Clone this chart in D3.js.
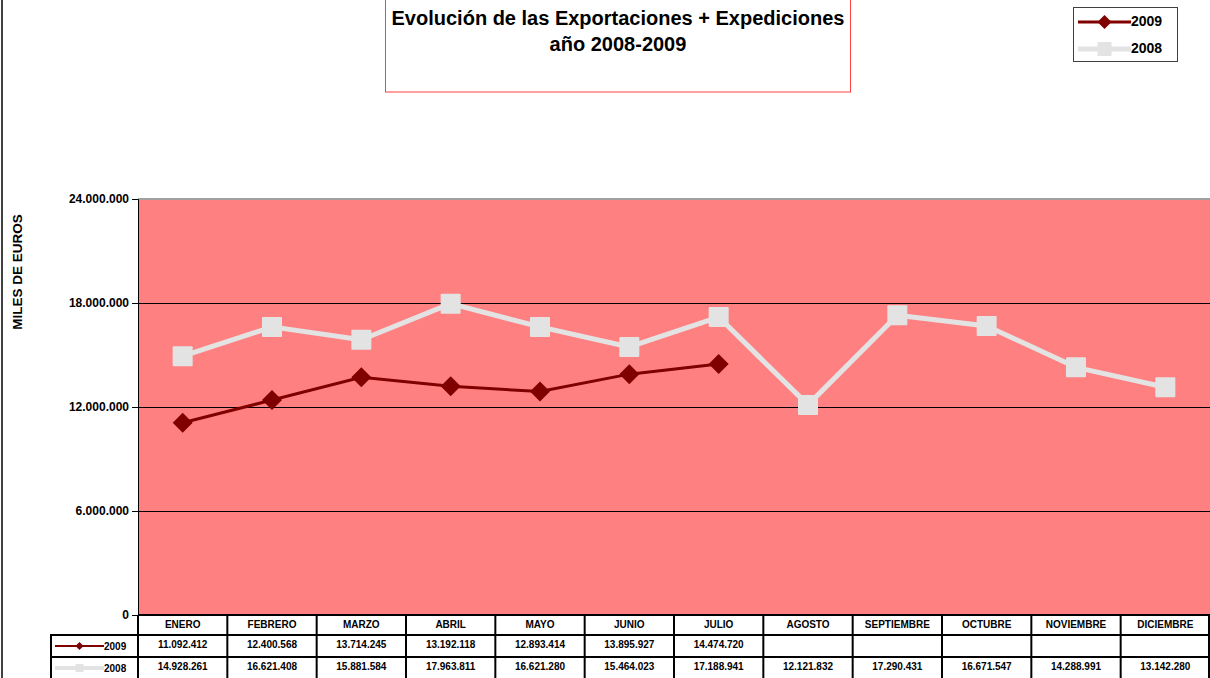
<!DOCTYPE html>
<html>
<head>
<meta charset="utf-8">
<script src="https://cdn.jsdelivr.net/npm/d3@7"></script>
<style>
body{margin:0;background:#fff;font-family:"Liberation Sans",Arial,sans-serif;}
</style>
</head>
<body>
<script>
var months = ["ENERO","FEBRERO","MARZO","ABRIL","MAYO","JUNIO","JULIO","AGOSTO","SEPTIEMBRE","OCTUBRE","NOVIEMBRE","DICIEMBRE"];
var v2009 = [11092412,12400568,13714245,13192118,12893414,13895927,14474720,null,null,null,null,null];
var v2008 = [14928261,16621408,15881584,17963811,16621280,15464023,17188941,12121832,17290431,16671547,14288991,13142280];
var yTicks = [0,6000000,12000000,18000000,24000000];

var W = 1210, H = 678;
var pLeft = 138, pRight = 1210, pTop = 199, pBottom = 615;

var svg = d3.select("body").append("svg")
  .attr("width", W).attr("height", H);

// frame left edge
svg.append("line").attr("x1",2).attr("x2",2).attr("y1",0).attr("y2",H)
  .attr("stroke","#000").attr("stroke-width",1.5);

var x = d3.scaleBand().domain(months).range([pLeft, pRight]);
var y = d3.scaleLinear().domain([0,24000000]).range([pBottom, pTop]);

function fmt(v){
  return d3.format(",")(v).replace(/,/g,".");
}

// plot area
svg.append("rect").attr("x",pLeft).attr("y",pTop).attr("width",pRight-pLeft).attr("height",pBottom-pTop)
  .attr("fill","#ff8080");
svg.append("line").attr("x1",pLeft).attr("x2",pRight).attr("y1",pTop).attr("y2",pTop)
  .attr("stroke","#a0a0a0").attr("stroke-width",2);

// gridlines
svg.selectAll(".grid").data(yTicks.filter(function(d){return d>0 && d<24000000;}))
  .enter().append("line")
  .attr("x1",pLeft).attr("x2",pRight)
  .attr("y1",function(d){return Math.round(y(d))+0.5;})
  .attr("y2",function(d){return Math.round(y(d))+0.5;})
  .attr("stroke","#000").attr("stroke-width",1);

// y axis
var yAxis = d3.axisLeft(y).tickValues(yTicks).tickSize(6).tickFormat(function(d){return d==0?"0":fmt(d);});
var ga = svg.append("g").attr("transform","translate("+pLeft+",0)").call(yAxis);
ga.select(".domain").attr("stroke","#000");
ga.selectAll("text").attr("font-family","Liberation Sans, Arial").attr("font-weight","bold")
  .attr("font-size",12).attr("fill","#000").attr("dx",0);

svg.append("text").attr("transform","translate(22,272) rotate(-90)")
  .attr("text-anchor","middle").attr("font-weight","bold").attr("font-size",13.5)
  .text("MILES DE EUROS");

// lines
var line = d3.line().defined(function(d){return d!=null;})
  .x(function(d,i){return x(months[i])+x.bandwidth()/2;})
  .y(function(d){return y(d);});

svg.append("path").datum(v2008).attr("d",line).attr("fill","none")
  .attr("stroke","#e3e3e3").attr("stroke-width",5).attr("stroke-linejoin","round");
svg.selectAll(".m08").data(v2008).enter().append("rect")
  .attr("x",function(d,i){return x(months[i])+x.bandwidth()/2-10;})
  .attr("y",function(d){return y(d)-10;})
  .attr("width",20).attr("height",20).attr("rx",1)
  .attr("fill","#e3e3e3");

svg.append("path").datum(v2009).attr("d",line).attr("fill","none")
  .attr("stroke","#800000").attr("stroke-width",3);
svg.selectAll(".m09").data(v2009.filter(function(d){return d!=null;})).enter().append("path")
  .attr("d","M0,-10L10,0L0,10L-10,0Z")
  .attr("transform",function(d,i){return "translate("+(x(months[i])+x.bandwidth()/2)+","+y(d)+")";})
  .attr("fill","#800000");

// data table
var rowY = [615,635,657,679];
var tg = svg.append("g");
function hline(x1,x2,yy){
  tg.append("line").attr("x1",x1).attr("x2",x2).attr("y1",yy).attr("y2",yy)
    .attr("stroke","#000").attr("stroke-width",2);
}
hline(pLeft,pRight,rowY[0]);
hline(50,pRight,rowY[1]);
hline(50,pRight,rowY[2]);
// vertical lines
var vx = months.map(function(m){return x(m);});
vx.push(pRight-1);
vx.forEach(function(xx){
  tg.append("line").attr("x1",xx).attr("x2",xx).attr("y1",rowY[0]).attr("y2",H)
    .attr("stroke","#000").attr("stroke-width",2);
});
tg.append("line").attr("x1",51).attr("x2",51).attr("y1",rowY[1]).attr("y2",H)
  .attr("stroke","#000").attr("stroke-width",2);

tg.selectAll(".hd").data(months).enter().append("text")
  .attr("x",function(d){return x(d)+x.bandwidth()/2;})
  .attr("y",rowY[0]+13).attr("text-anchor","middle")
  .attr("font-weight","bold").attr("font-size",10).text(function(d){return d;});
tg.selectAll(".r09").data(v2009).enter().append("text")
  .attr("x",function(d,i){return x(months[i])+x.bandwidth()/2;})
  .attr("y",rowY[1]+13).attr("text-anchor","middle")
  .attr("font-weight","bold").attr("font-size",10).text(function(d){return d==null?"":fmt(d);});
tg.selectAll(".r08").data(v2008).enter().append("text")
  .attr("x",function(d,i){return x(months[i])+x.bandwidth()/2;})
  .attr("y",rowY[2]+13).attr("text-anchor","middle")
  .attr("font-weight","bold").attr("font-size",10).text(function(d){return fmt(d);});

// legend keys (table and legend box)
function key(g, k, isMain, lab, fs){
  // k = [x1, x2, y, lineWidth, markerHalf]
  if(isMain){
    g.append("line").attr("x1",k[0]).attr("x2",k[1]).attr("y1",k[2]).attr("y2",k[2])
      .attr("stroke","#800000").attr("stroke-width",k[3]);
    g.append("path").attr("d","M0,-"+k[4]+"L"+k[4]+",0L0,"+k[4]+"L-"+k[4]+",0Z")
      .attr("transform","translate("+((k[0]+k[1])/2)+","+k[2]+")").attr("fill","#800000");
  } else {
    g.append("line").attr("x1",k[0]).attr("x2",k[1]).attr("y1",k[2]).attr("y2",k[2])
      .attr("stroke","#e3e3e3").attr("stroke-width",k[3]+2);
    g.append("rect").attr("x",(k[0]+k[1])/2-k[4]).attr("y",k[2]-k[4])
      .attr("width",k[4]*2).attr("height",k[4]*2).attr("fill","#e3e3e3");
  }
  g.append("text").attr("x",k[1]).attr("y",k[2]+4).attr("font-weight","bold")
    .attr("font-size",fs).text(lab);
}
key(tg,[55,104,646,2,4],true,"2009",10);
key(tg,[55,104,668,2,4],false,"2008",10);

// title box
svg.append("rect").attr("x",385.5).attr("y",-2).attr("width",465).attr("height",94)
  .attr("fill","#fff").attr("stroke","#ff4040").attr("stroke-width",1);
svg.append("text").attr("x",618).attr("y",25).attr("text-anchor","middle")
  .attr("font-weight","bold").attr("font-size",20).text("Evolución de las Exportaciones + Expediciones");
svg.append("text").attr("x",618).attr("y",51).attr("text-anchor","middle")
  .attr("font-weight","bold").attr("font-size",20).text("año 2008-2009");

// legend box
var lg = svg.append("g");
lg.append("rect").attr("x",1073.5).attr("y",7.5).attr("width",104).attr("height",54)
  .attr("fill","#fff").attr("stroke","#404040").attr("stroke-width",1);
key(lg,[1078,1131,22,3,7],true,"2009",14);
key(lg,[1078,1131,49,3,7],false,"2008",14);
</script>
</body>
</html>
